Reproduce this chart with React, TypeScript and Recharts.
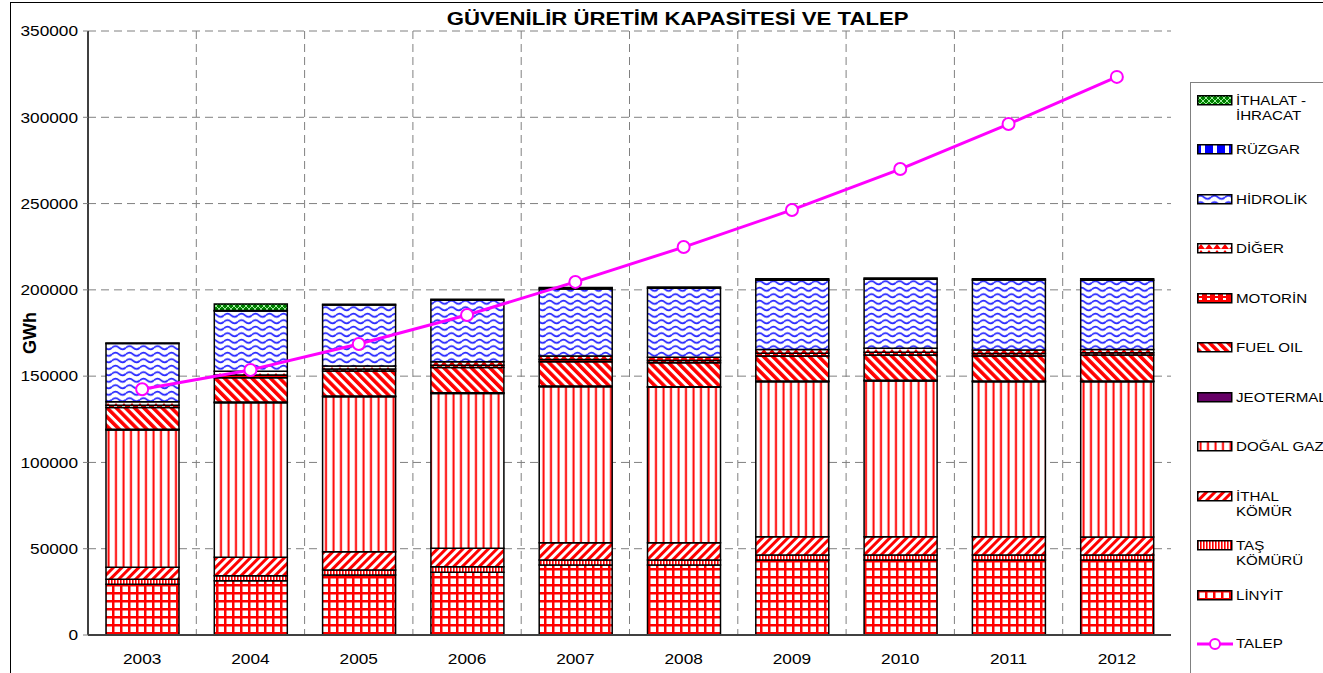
import { ComposedChart, Bar, Line, XAxis, YAxis, CartesianGrid } from 'recharts'

const years = ['2003', '2004', '2005', '2006', '2007', '2008', '2009', '2010', '2011', '2012']

const linyit = [29400, 31500, 34800, 36300, 40600, 40600, 43500, 43500, 43500, 43500]
const tasKomuru = [2900, 2900, 2900, 3300, 2900, 2900, 2900, 2900, 2900, 2900]
const ithalKomur = [7000, 10600, 10600, 10600, 10000, 10000, 10600, 10600, 10600, 10400]
const dogalGaz = [79500, 89600, 89800, 89800, 90400, 90000, 89800, 90200, 89800, 90000]
const jeotermal = [400, 400, 400, 400, 400, 400, 400, 400, 400, 400]
const fuelOil = [12700, 14100, 14500, 14600, 14100, 13900, 14500, 14700, 14500, 15000]
const motorin = [1200, 1500, 1100, 1300, 1300, 1200, 1500, 1500, 1400, 1300]
const diger = [2000, 2200, 1800, 2000, 2000, 1900, 2300, 2300, 2100, 2000]
const hidrolik = [33800, 35000, 35300, 35700, 38800, 40000, 40100, 40000, 40500, 40100]
const ruzgar = [300, 300, 400, 600, 800, 800, 800, 800, 800, 800]
const ithalat = [0, 3700, 0, 0, 0, 0, 0, 0, 0, 0]
const talep = [142400, 153600, 168600, 185400, 204600, 224800, 246300, 270000, 296100, 323400]

const yTicks = [0, 50000, 100000, 150000, 200000, 250000, 300000, 350000]

const series = [
  { key: 'linyit', name: 'LİNYİT', values: linyit, fill: 'url(#pLinyit)' },
  { key: 'tas', name: 'TAŞ\nKÖMÜRÜ', values: tasKomuru, fill: 'url(#pTas)' },
  { key: 'ithal', name: 'İTHAL\nKÖMÜR', values: ithalKomur, fill: 'url(#pIthal)' },
  { key: 'gaz', name: 'DOĞAL GAZ', values: dogalGaz, fill: 'url(#pGaz)' },
  { key: 'jeo', name: 'JEOTERMAL', values: jeotermal, fill: '#660066' },
  { key: 'fuel', name: 'FUEL OIL', values: fuelOil, fill: 'url(#pFuel)' },
  { key: 'motorin', name: 'MOTORİN', values: motorin, fill: 'url(#pMotorin)' },
  { key: 'diger', name: 'DİĞER', values: diger, fill: 'url(#pDiger)' },
  { key: 'hidro', name: 'HİDROLİK', values: hidrolik, fill: 'url(#pHidro)' },
  { key: 'ruzgar', name: 'RÜZGAR', values: ruzgar, fill: 'url(#pRuzgar)' },
  { key: 'ithalat', name: 'İTHALAT -\nİHRACAT', values: ithalat, fill: 'url(#pIthalat)' },
]

const data = years.map((year, i) => {
  const row: Record<string, string | number> = { year, talep: talep[i] }
  series.forEach((s) => {
    row[s.key] = s.values[i]
  })
  return row
})

const font = '"Liberation Sans", Arial, sans-serif'

// the source picture is a bit wider than tall, so axis text is stretched sideways
const StretchTick = ({ x, y, payload, textAnchor, dy }: any) => (
  <g transform={`translate(${x},${y})`}>
    <text transform="scale(1.15,1)" textAnchor={textAnchor} dy={dy} fontSize={15} fill="#000" fontFamily={font}>
      {payload.value}
    </text>
  </g>
)

function Patterns() {
  return (
    <svg width={0} height={0} style={{ position: 'absolute' }}>
      <defs>
        <pattern id="pLinyit" width="8" height="8" patternUnits="userSpaceOnUse">
          <rect width="8" height="8" fill="#fff" />
          <rect x="0" width="2.5" height="8" fill="#ff0000" />
          <rect y="0" width="8" height="2.5" fill="#ff0000" />
        </pattern>
        <pattern id="pTas" width="3" height="3" patternUnits="userSpaceOnUse">
          <rect width="3" height="3" fill="#fff" />
          <rect width="1.6" height="3" fill="#ff0000" />
        </pattern>
        <pattern id="pIthal" width="6" height="6" patternUnits="userSpaceOnUse" patternTransform="rotate(45)">
          <rect width="6" height="6" fill="#fff" />
          <rect width="3" height="6" fill="#ff0000" />
        </pattern>
        <pattern id="pGaz" width="7.5" height="10" patternUnits="userSpaceOnUse">
          <rect width="7.5" height="10" fill="#fff" />
          <rect x="2.5" width="2" height="10" fill="#ff0000" />
        </pattern>
        <pattern id="pFuel" width="6.5" height="6.5" patternUnits="userSpaceOnUse" patternTransform="rotate(-45)">
          <rect width="6.5" height="6.5" fill="#fff" />
          <rect width="3.6" height="6.5" fill="#ff0000" />
        </pattern>
        <pattern id="pMotorin" width="8" height="4" patternUnits="userSpaceOnUse">
          <rect width="8" height="4" fill="#ff0000" />
          <rect x="2" y="1" width="3" height="2" fill="#fff" />
        </pattern>
        <pattern id="pDiger" width="8" height="6" patternUnits="userSpaceOnUse">
          <rect width="8" height="6" fill="#fff" />
          <polygon points="0,6 4,1 8,6" fill="#ff0000" />
        </pattern>
        <pattern id="pHidro" width="14" height="6.5" patternUnits="userSpaceOnUse">
          <rect width="14" height="6.5" fill="#fff" />
          <path d="M0 3.25 Q3.5 0 7 3.25 T14 3.25" fill="none" stroke="#2828ff" strokeWidth="1.6" />
        </pattern>
        <pattern id="pRuzgar" width="12" height="10" patternUnits="userSpaceOnUse">
          <rect width="12" height="10" fill="#0000ff" />
          <rect x="4" y="1" width="4" height="8" fill="#fff" />
        </pattern>
        <pattern id="pIthalat" width="6" height="6" patternUnits="userSpaceOnUse">
          <rect width="6" height="6" fill="#008000" />
          <path d="M0 0 L6 6 M6 0 L0 6" stroke="#a0f0a0" strokeWidth="1" />
        </pattern>
      </defs>
    </svg>
  )
}

function LegendBox() {
  const items = [...series].reverse()
  const step = 49.45
  const label = { marginLeft: 3, whiteSpace: 'pre-line' as const, lineHeight: '15px', transform: 'scaleX(1.12)', transformOrigin: '0 0' }
  return (
    <div
      style={{
        position: 'absolute',
        left: 1190,
        top: 82,
        width: 200,
        height: 700,
        borderLeft: '1px solid #808080',
        borderTop: '1px solid #808080',
        fontFamily: font,
        fontSize: 13.5,
        color: '#000',
      }}
    >
      {items.map((s, i) => (
        <div key={s.key} style={{ position: 'absolute', left: 6, top: 10 + i * step, display: 'flex', alignItems: 'flex-start' }}>
          <svg width={36} height={11} style={{ marginTop: 2 }}>
            <rect x={0.75} y={0.75} width={34} height={9} fill={s.fill} stroke="#000" strokeWidth={1.5} />
          </svg>
          <span style={label}>{s.name}</span>
        </div>
      ))}
      <div style={{ position: 'absolute', left: 6, top: 10 + items.length * step, display: 'flex', alignItems: 'center' }}>
        <svg width={36} height={14}>
          <line x1={0} y1={7} x2={36} y2={7} stroke="#ff00ff" strokeWidth={3} />
          <circle cx={18} cy={7} r={5} fill="#fff" stroke="#ff00ff" strokeWidth={2} />
        </svg>
        <span style={{ ...label, lineHeight: '14px' }}>TALEP</span>
      </div>
    </div>
  )
}

export default function App() {
  return (
    <div style={{ position: 'absolute', left: 0, top: 0, width: 1323, height: 673, background: '#fff', overflow: 'hidden' }}>
      <Patterns />
      <div style={{ position: 'absolute', left: 10, top: 2, width: 1400, height: 800, border: '1.5px solid #000' }} />
      <div
        style={{
          position: 'absolute',
          left: 0,
          top: 9,
          width: 1355,
          textAlign: 'center',
          fontFamily: font,
          fontWeight: 'bold',
          fontSize: 18,
          transform: 'scaleX(1.23)',
          transformOrigin: '677px 0',
        }}
      >
        GÜVENİLİR ÜRETİM KAPASİTESİ VE TALEP
      </div>
      <div style={{ position: 'absolute', left: 0, top: 0 }}>
        <ComposedChart
          width={1323}
          height={673}
          data={data}
          margin={{ top: 31, right: 152, bottom: 8, left: 8 }}
          style={{ fontFamily: font }}
        >
          <CartesianGrid
            stroke="#808080"
            strokeDasharray="8 5"
            verticalCoordinatesGenerator={({ offset }: any) =>
              years.slice(1).map((_, i) => offset.left + ((i + 1) * offset.width) / years.length)
            }
          />
          <XAxis
            dataKey="year"
            height={30}
            axisLine={{ stroke: '#404040', strokeWidth: 2 }}
            tickLine={false}
            tickSize={6}
            tickMargin={12}
            tick={<StretchTick textAnchor="middle" dy="0.71em" />}
          />
          <XAxis xAxisId="top" dataKey="year" orientation="top" height={0} tick={false} tickLine={false} axisLine={{ stroke: '#808080', strokeWidth: 1.5 }} />
          <YAxis
            width={80}
            domain={[0, 350000]}
            ticks={yTicks}
            interval={0}
            axisLine={{ stroke: '#404040', strokeWidth: 2 }}
            tickLine={{ stroke: '#808080' }}
            tickSize={5}
            tickMargin={5}
            tick={<StretchTick textAnchor="end" dy="0.355em" />}
            label={{
              value: 'GWh',
              angle: -90,
              position: 'insideLeft',
              offset: 22,
              style: { fontWeight: 'bold', fontSize: 18, fill: '#000', textAnchor: 'middle' },
            }}
          />
          <YAxis yAxisId="right" orientation="right" width={0} domain={[0, 350000]} tick={false} tickLine={false} axisLine={{ stroke: '#808080', strokeWidth: 1.5 }} />
          {series.map((s) => (
            <Bar
              key={s.key}
              dataKey={s.key}
              name={s.name}
              stackId="a"
              fill={s.fill}
              stroke="#000"
              strokeWidth={1.5}
              barSize={73}
              isAnimationActive={false}
            />
          ))}
          <Line
            dataKey="talep"
            name="TALEP"
            stroke="#ff00ff"
            strokeWidth={3}
            dot={{ r: 6, fill: '#fff', stroke: '#ff00ff', strokeWidth: 2 }}
            activeDot={false}
            isAnimationActive={false}
          />
        </ComposedChart>
      </div>
      <LegendBox />
    </div>
  )
}
